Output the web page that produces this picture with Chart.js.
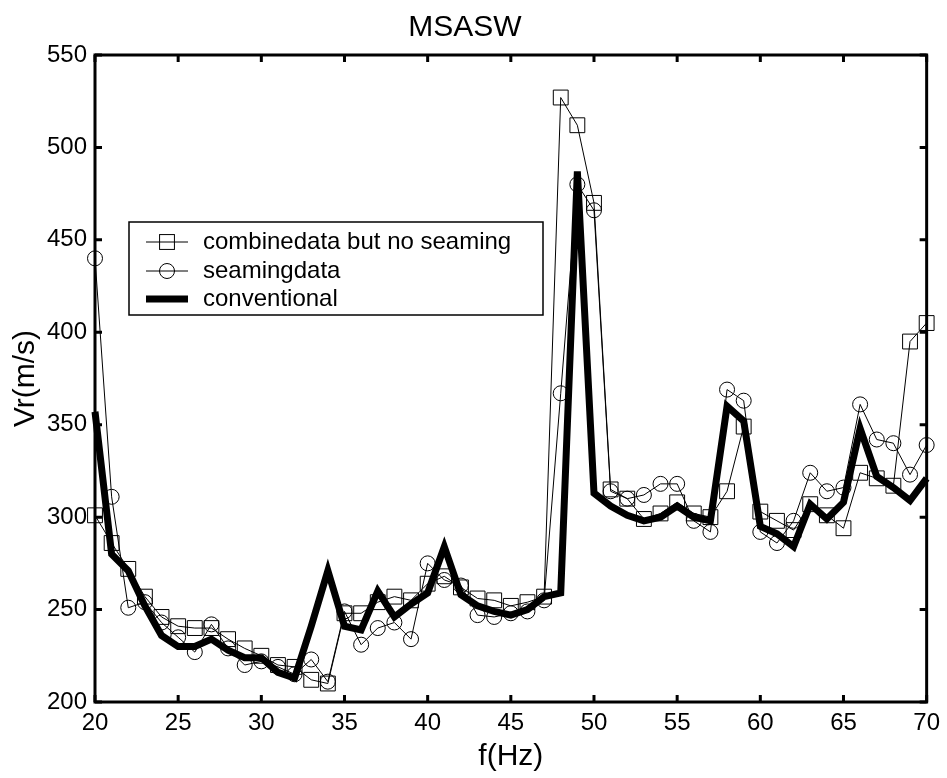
<!DOCTYPE html>
<html>
<head>
<meta charset="utf-8">
<script src="https://cdn.jsdelivr.net/npm/chart.js@4.4.0/dist/chart.umd.min.js"></script>
<style>
  body { margin: 0; background: #fff; }
  #wrap { width: 947px; height: 778px; }
</style>
</head>
<body>
<div id="wrap"><canvas id="vrChart" width="947" height="778"></canvas></div>
<script>
// frequency (Hz)
const freqs = [20, 21, 22, 23, 24, 25, 26, 27, 28, 29,
               30, 31, 32, 33, 34, 35, 36, 37, 38, 39,
               40, 41, 42, 43, 44, 45, 46, 47, 48, 49,
               50, 51, 52, 53, 54, 55, 56, 57, 58, 59,
               60, 61, 62, 63, 64, 65, 66, 67, 68, 69, 70];

// combinedata but no seaming (squares)
const combinedVals = [301, 286, 272, 257, 246, 241, 240, 240, 234, 229,
                      225, 220, 219, 212, 210, 248, 248, 254, 257, 255,
                      264, 268, 262, 256, 255, 252, 254, 257, 527, 512,
                      470, 315, 310, 299, 302, 308, 302, 300, 314, 349,
                      303, 298, 293, 307, 301, 294, 324, 321, 317, 395, 405];

// seamingdata (circles)
const seamingVals = [440, 311, 251, 254, 243, 235, 227, 242, 229, 220,
                     222, 219, 215, 223, 211, 249, 231, 240, 243, 234,
                     275, 266, 263, 247, 246, 248, 249, 255, 367, 480,
                     466, 314, 310, 312, 318, 318, 298, 292, 369, 363,
                     292, 286, 298, 324, 314, 316, 361, 342, 340, 323, 339];

// conventional (thick line)
const conventionalVals = [357, 280, 271, 252, 236, 230, 230, 234, 228, 224,
                          224, 216, 213, 241, 271, 241, 239, 260, 246, 253,
                          259, 284, 258, 252, 249, 247, 250, 257, 259, 487,
                          313, 306, 301, 298, 300, 306, 300, 298, 360, 352,
                          295, 291, 284, 307, 299, 308, 348, 322, 316, 309, 321];

const seriesNames = ['combinedata but no seaming', 'seamingdata', 'conventional'];
const xTicks = [20, 25, 30, 35, 40, 45, 50, 55, 60, 65, 70];
const yTicks = [200, 250, 300, 350, 400, 450, 500, 550];

const FONT = "'Liberation Sans', Arial, Helvetica, sans-serif";
Chart.defaults.font.family = FONT;
Chart.defaults.color = '#000';

function toPoints(vals) {
    return vals.map(function(v, i) { return { x: freqs[i], y: v }; });
}

// box around the plot with ticks pointing inwards
const framePlugin = {
    id: 'frame',
    afterDatasetsDraw(chart) {
        const ctx = chart.ctx;
        const a = chart.chartArea;
        const xs = chart.scales.x;
        const ys = chart.scales.y;
        const tl = 7;
        ctx.save();
        ctx.strokeStyle = '#000';
        ctx.lineWidth = 3;
        ctx.beginPath();
        xs.ticks.forEach(function(t) {
            let px = xs.getPixelForValue(t.value);
            ctx.moveTo(px, a.bottom); ctx.lineTo(px, a.bottom - tl);
            ctx.moveTo(px, a.top); ctx.lineTo(px, a.top + tl);
        });
        ys.ticks.forEach(function(t) {
            let py = ys.getPixelForValue(t.value);
            ctx.moveTo(a.left, py); ctx.lineTo(a.left + tl, py);
            ctx.moveTo(a.right, py); ctx.lineTo(a.right - tl, py);
        });
        ctx.stroke();
        ctx.strokeRect(a.left, a.top, a.right - a.left, a.bottom - a.top);
        ctx.restore();
    }
};

// matlab-like legend box inside the axes
const legendPlugin = {
    id: 'boxLegend',
    afterDraw(chart) {
        const ctx = chart.ctx;
        const box = { x: 129, y: 222, w: 414, h: 93 };
        const rows = [242, 271, 299];
        ctx.save();
        ctx.fillStyle = '#fff';
        ctx.fillRect(box.x, box.y, box.w, box.h);
        ctx.strokeStyle = '#000';
        ctx.lineWidth = 1.5;
        ctx.strokeRect(box.x, box.y, box.w, box.h);

        chart.data.datasets.forEach(function(ds, i) {
            let y = rows[i];
            ctx.strokeStyle = '#000';
            ctx.lineWidth = ds.borderWidth;
            ctx.beginPath();
            ctx.moveTo(146, y);
            ctx.lineTo(188, y);
            ctx.stroke();
            ctx.lineWidth = 1;
            if (ds.pointStyle === 'rect' && ds.pointRadius > 0) {
                let s = ds.pointRadius * Math.SQRT1_2;
                ctx.strokeRect(167 - s, y - s, 2 * s, 2 * s);
            } else if (ds.pointStyle === 'circle' && ds.pointRadius > 0) {
                ctx.beginPath();
                ctx.arc(167, y, ds.pointRadius, 0, Math.PI * 2);
                ctx.stroke();
            }
            ctx.fillStyle = '#000';
            ctx.font = '24px ' + FONT;
            ctx.textBaseline = 'middle';
            ctx.textAlign = 'left';
            ctx.fillText(ds.label, 203, y);
        });
        ctx.restore();
    }
};

const ctx = document.getElementById('vrChart').getContext('2d');
const chart = new Chart(ctx, {
    type: 'line',
    data: {
        datasets: [
            {
                label: seriesNames[0],
                data: toPoints(combinedVals),
                borderColor: '#000',
                borderWidth: 1,
                pointStyle: 'rect',
                pointRadius: 10.5,
                pointBorderWidth: 1,
                pointBorderColor: '#000',
                pointBackgroundColor: 'rgba(0,0,0,0)',
                tension: 0,
                clip: false,
                order: 3
            },
            {
                label: seriesNames[1],
                data: toPoints(seamingVals),
                borderColor: '#000',
                borderWidth: 1,
                pointStyle: 'circle',
                pointRadius: 7.5,
                pointBorderWidth: 1,
                pointBorderColor: '#000',
                pointBackgroundColor: 'rgba(0,0,0,0)',
                tension: 0,
                clip: false,
                order: 2
            },
            {
                label: seriesNames[2],
                data: toPoints(conventionalVals),
                borderColor: '#000',
                borderWidth: 7,
                pointRadius: 0,
                tension: 0,
                clip: false,
                order: 1
            }
        ]
    },
    options: {
        responsive: false,
        animation: false,
        events: [],
        layout: { padding: { left: 0, right: 17, top: 0, bottom: 0 } },
        plugins: {
            legend: { display: false },
            tooltip: { enabled: false },
            title: {
                display: true,
                text: 'MSASW',
                color: '#000',
                font: { size: 30, weight: 'normal' },
                padding: { top: 10, bottom: 9 }
            }
        },
        scales: {
            x: {
                type: 'linear',
                min: 20,
                max: 70,
                afterBuildTicks(scale) {
                    scale.ticks = xTicks.map(function(v) { return { value: v }; });
                },
                ticks: { color: '#000', font: { size: 24 }, padding: 7, maxRotation: 0 },
                grid: { display: false, drawTicks: false },
                border: { display: false },
                title: {
                    display: true,
                    text: 'f(Hz)',
                    color: '#000',
                    font: { size: 30 },
                    padding: { top: 0, bottom: 3 }
                },
                afterFit(scale) { scale.height = 76; }
            },
            y: {
                type: 'linear',
                min: 200,
                max: 550,
                afterBuildTicks(scale) {
                    scale.ticks = yTicks.map(function(v) { return { value: v }; });
                },
                ticks: { color: '#000', font: { size: 24 }, padding: 8 },
                grid: { display: false, drawTicks: false },
                border: { display: false },
                title: {
                    display: true,
                    text: 'Vr(m/s)',
                    color: '#000',
                    font: { size: 30 },
                    padding: { top: 8, bottom: 0 }
                },
                afterFit(scale) { scale.width = 95; }
            }
        }
    },
    plugins: [framePlugin, legendPlugin]
});
</script>
</body>
</html>
